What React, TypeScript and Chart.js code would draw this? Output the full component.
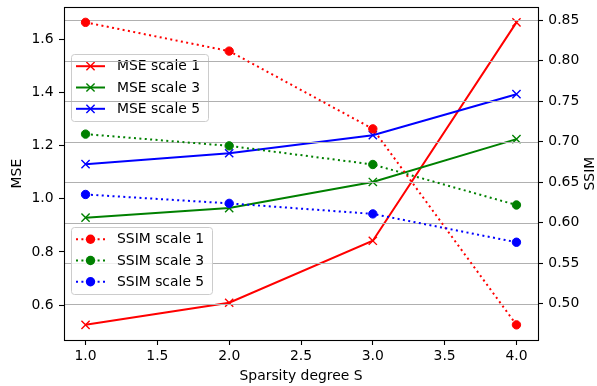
import React, { useEffect, useRef } from "react";
import { Chart, registerables } from "chart.js";

Chart.register(...registerables);

const sparsity = [1, 2, 3, 4];
const mseScale1 = [0.526, 0.609, 0.842, 1.663];
const mseScale3 = [0.929, 0.965, 1.063, 1.224];
const mseScale5 = [1.13, 1.171, 1.239, 1.393];
const ssimScale1 = [0.8475, 0.812, 0.716, 0.474];
const ssimScale3 = [0.7095, 0.695, 0.672, 0.622];
const ssimScale5 = [0.635, 0.624, 0.611, 0.576];
const xTicks = [1.0, 1.5, 2.0, 2.5, 3.0, 3.5, 4.0];
const mseTicks = [0.6, 0.8, 1.0, 1.2, 1.4, 1.6];
const ssimTicks = [0.5, 0.55, 0.6, 0.65, 0.7, 0.75, 0.8, 0.85];
const xRange = [0.85, 4.15];
const mseRange = [0.469, 1.72];
const ssimRange = [0.4553, 0.8662];
const xTitle = "Sparsity degree S";
const mseTitle = "MSE";
const ssimTitle = "SSIM";

const FONT = "DejaVu Sans";
const FS = 13.9;

function pts(ys: number[]) {
  return sparsity.map((x, i) => ({ x, y: ys[i] }));
}

function drawMarker(ctx: CanvasRenderingContext2D, style: string, x: number, y: number, color: string) {
  ctx.save();
  if (style === "crossRot") {
    const h = 4.1;
    ctx.strokeStyle = color;
    ctx.lineWidth = 1.4;
    ctx.setLineDash([]);
    ctx.beginPath();
    ctx.moveTo(x - h, y - h);
    ctx.lineTo(x + h, y + h);
    ctx.moveTo(x - h, y + h);
    ctx.lineTo(x + h, y - h);
    ctx.stroke();
  } else {
    ctx.fillStyle = color;
    ctx.beginPath();
    ctx.arc(x, y, 4.7, 0, Math.PI * 2);
    ctx.fill();
  }
  ctx.restore();
}

function roundRect(ctx: CanvasRenderingContext2D, x: number, y: number, w: number, h: number, r: number) {
  ctx.beginPath();
  ctx.moveTo(x + r, y);
  ctx.lineTo(x + w - r, y);
  ctx.arcTo(x + w, y, x + w, y + r, r);
  ctx.lineTo(x + w, y + h - r);
  ctx.arcTo(x + w, y + h, x + w - r, y + h, r);
  ctx.lineTo(x + r, y + h);
  ctx.arcTo(x, y + h, x, y + h - r, r);
  ctx.lineTo(x, y + r);
  ctx.arcTo(x, y, x + r, y, r);
  ctx.closePath();
}

function drawLegend(chart: any, axisId: string, box: { x: number; y: number; w: number; h: number }) {
  const ctx: CanvasRenderingContext2D = chart.ctx;
  const items = chart.data.datasets.filter((d: any) => d.yAxisID === axisId);
  ctx.save();
  roundRect(ctx, box.x + 0.5, box.y + 0.5, box.w, box.h, 3);
  ctx.fillStyle = "rgba(255,255,255,0.8)";
  ctx.fill();
  ctx.strokeStyle = "#cccccc";
  ctx.lineWidth = 1;
  ctx.stroke();
  const rowH = 21.3;
  const firstY = box.y + box.h / 2 - rowH;
  items.forEach((d: any, i: number) => {
    const y = firstY + i * rowH;
    const x0 = box.x + 5;
    const x1 = box.x + 34;
    ctx.save();
    ctx.strokeStyle = d.borderColor;
    ctx.lineWidth = 2;
    ctx.setLineDash(d.borderDash || []);
    ctx.beginPath();
    ctx.moveTo(x0, y);
    ctx.lineTo(x1, y);
    ctx.stroke();
    ctx.restore();
    drawMarker(ctx, d.pointStyle, (x0 + x1) / 2, y, d.borderColor);
    ctx.fillStyle = "#000";
    ctx.font = `${FS}px "${FONT}"`;
    ctx.textBaseline = "middle";
    ctx.textAlign = "left";
    ctx.fillText(d.label, box.x + 46, y + 0.5);
  });
  ctx.restore();
}

function drawGrid(chart: any) {
  const ctx: CanvasRenderingContext2D = chart.ctx;
  const area = chart.chartArea;
  const s = chart.scales.y2;
  ctx.save();
  ctx.strokeStyle = "#b0b0b0";
  ctx.lineWidth = 1.1;
  s.ticks.forEach((t: any) => {
    const y = Math.round(s.getPixelForValue(t.value)) + 0.5;
    ctx.beginPath();
    ctx.moveTo(area.left, y);
    ctx.lineTo(area.right, y);
    ctx.stroke();
  });
  ctx.restore();
}

const overlayPlugin = {
  id: "overlay",
  beforeDatasetsDraw(chart: any) {
    chart.$gridDone = false;
  },
  beforeDatasetDraw(chart: any, args: any) {
    const ds = chart.data.datasets[args.index];
    if (ds.yAxisID === "y2" && !chart.$gridDone) {
      chart.$gridDone = true;
      drawLegend(chart, "y", { x: 71, y: 54, w: 137, h: 67 });
      drawGrid(chart);
    }
  },
  afterDatasetsDraw(chart: any) {
    drawLegend(chart, "y2", { x: 71, y: 227, w: 141, h: 67 });
  },
  afterDraw(chart: any) {
    const ctx: CanvasRenderingContext2D = chart.ctx;
    const a = chart.chartArea;
    ctx.save();
    ctx.strokeStyle = "#000";
    ctx.lineWidth = 1.1;
    ctx.strokeRect(Math.round(a.left) + 0.5, Math.round(a.top) + 0.5, Math.round(a.right - a.left), Math.round(a.bottom - a.top));
    ctx.fillStyle = "#000";
    ctx.font = `${FS}px "${FONT}"`;
    ctx.textAlign = "center";
    ctx.textBaseline = "middle";
    ctx.fillText(xTitle, (a.left + a.right) / 2, 376);
    const cy = (a.top + a.bottom) / 2;
    ctx.save();
    ctx.translate(17.5, cy);
    ctx.rotate(-Math.PI / 2);
    ctx.fillText(mseTitle, 0, 0);
    ctx.restore();
    ctx.save();
    ctx.translate(590.5, cy);
    ctx.rotate(-Math.PI / 2);
    ctx.fillText(ssimTitle, 0, 0);
    ctx.restore();
    ctx.restore();
  },
};

function zeroPad(s: any) {
  s.paddingTop = 0;
  s.paddingBottom = 0;
  s.paddingLeft = 0;
  s.paddingRight = 0;
}

export default function App() {
  const ref = useRef<HTMLCanvasElement | null>(null);
  useEffect(() => {
    document.body.style.margin = "0";
    const canvas = ref.current!;
    const tickFont = { family: FONT, size: FS };
    const mk = (label: string, data: number[], color: string, axis: string, order: number) => {
      const isMse = axis === "y";
      return {
        label,
        data: pts(data),
        yAxisID: axis,
        xAxisID: "x",
        borderColor: color,
        backgroundColor: color,
        borderWidth: 2,
        borderDash: isMse ? [] : [2, 3.4],
        borderCapStyle: "butt",
        pointStyle: isMse ? "crossRot" : "circle",
        pointRadius: isMse ? 5.8 : 4.2,
        pointBorderWidth: isMse ? 1.4 : 1,
        pointBorderColor: color,
        pointBackgroundColor: color,
        tension: 0,
        fill: false,
        order,
      };
    };
    const chart = new Chart(canvas, {
      type: "line",
      data: {
        datasets: [
          mk("MSE scale 1", mseScale1, "#ff0000", "y", 6),
          mk("MSE scale 3", mseScale3, "#008000", "y", 5),
          mk("MSE scale 5", mseScale5, "#0000ff", "y", 4),
          mk("SSIM scale 1", ssimScale1, "#ff0000", "y2", 3),
          mk("SSIM scale 3", ssimScale3, "#008000", "y2", 2),
          mk("SSIM scale 5", ssimScale5, "#0000ff", "y2", 1),
        ] as any,
      },
      options: {
        animation: false,
        responsive: false,
        devicePixelRatio: 1,
        layout: { padding: { top: 7, left: 0, right: 0, bottom: 0 } },
        plugins: { legend: { display: false }, tooltip: { enabled: false } },
        scales: {
          x: {
            type: "linear",
            position: "bottom",
            min: xRange[0],
            max: xRange[1],
            afterBuildTicks: (s: any) => {
              s.ticks = xTicks.map((v) => ({ value: v }));
            },
            afterFit: (s: any) => {
              s.height = 46;
              zeroPad(s);
            },
            grid: { drawOnChartArea: false, tickLength: 5, tickColor: "#000", tickWidth: 1.1 },
            border: { display: false },
            ticks: {
              font: tickFont,
              color: "#000",
              padding: 3,
              autoSkip: false,
              maxRotation: 0,
              callback: (v: any) => Number(v).toFixed(1),
            },
          },
          y: {
            type: "linear",
            position: "left",
            min: mseRange[0],
            max: mseRange[1],
            afterBuildTicks: (s: any) => {
              s.ticks = mseTicks.map((v) => ({ value: v }));
            },
            afterFit: (s: any) => {
              s.width = 64;
              zeroPad(s);
            },
            grid: { drawOnChartArea: false, tickLength: 5, tickColor: "#000", tickWidth: 1.1 },
            border: { display: false },
            ticks: {
              font: tickFont,
              color: "#000",
              padding: 5.5,
              autoSkip: false,
              callback: (v: any) => Number(v).toFixed(1),
            },
          },
          y2: {
            type: "linear",
            position: "right",
            min: ssimRange[0],
            max: ssimRange[1],
            afterBuildTicks: (s: any) => {
              s.ticks = ssimTicks.map((v) => ({ value: v }));
            },
            afterFit: (s: any) => {
              s.width = 59;
              zeroPad(s);
            },
            grid: { drawOnChartArea: false, tickLength: 5, tickColor: "#000", tickWidth: 1.1 },
            border: { display: false },
            ticks: {
              font: tickFont,
              color: "#000",
              padding: 5.3,
              autoSkip: false,
              callback: (v: any) => Number(v).toFixed(2),
            },
          },
        },
      } as any,
      plugins: [overlayPlugin as any],
    });
    return () => chart.destroy();
  }, []);
  return (
    <div style={{ position: "absolute", left: 0, top: 0, width: 597, height: 386 }}>
      <canvas ref={ref} width={597} height={386} />
    </div>
  );
}
